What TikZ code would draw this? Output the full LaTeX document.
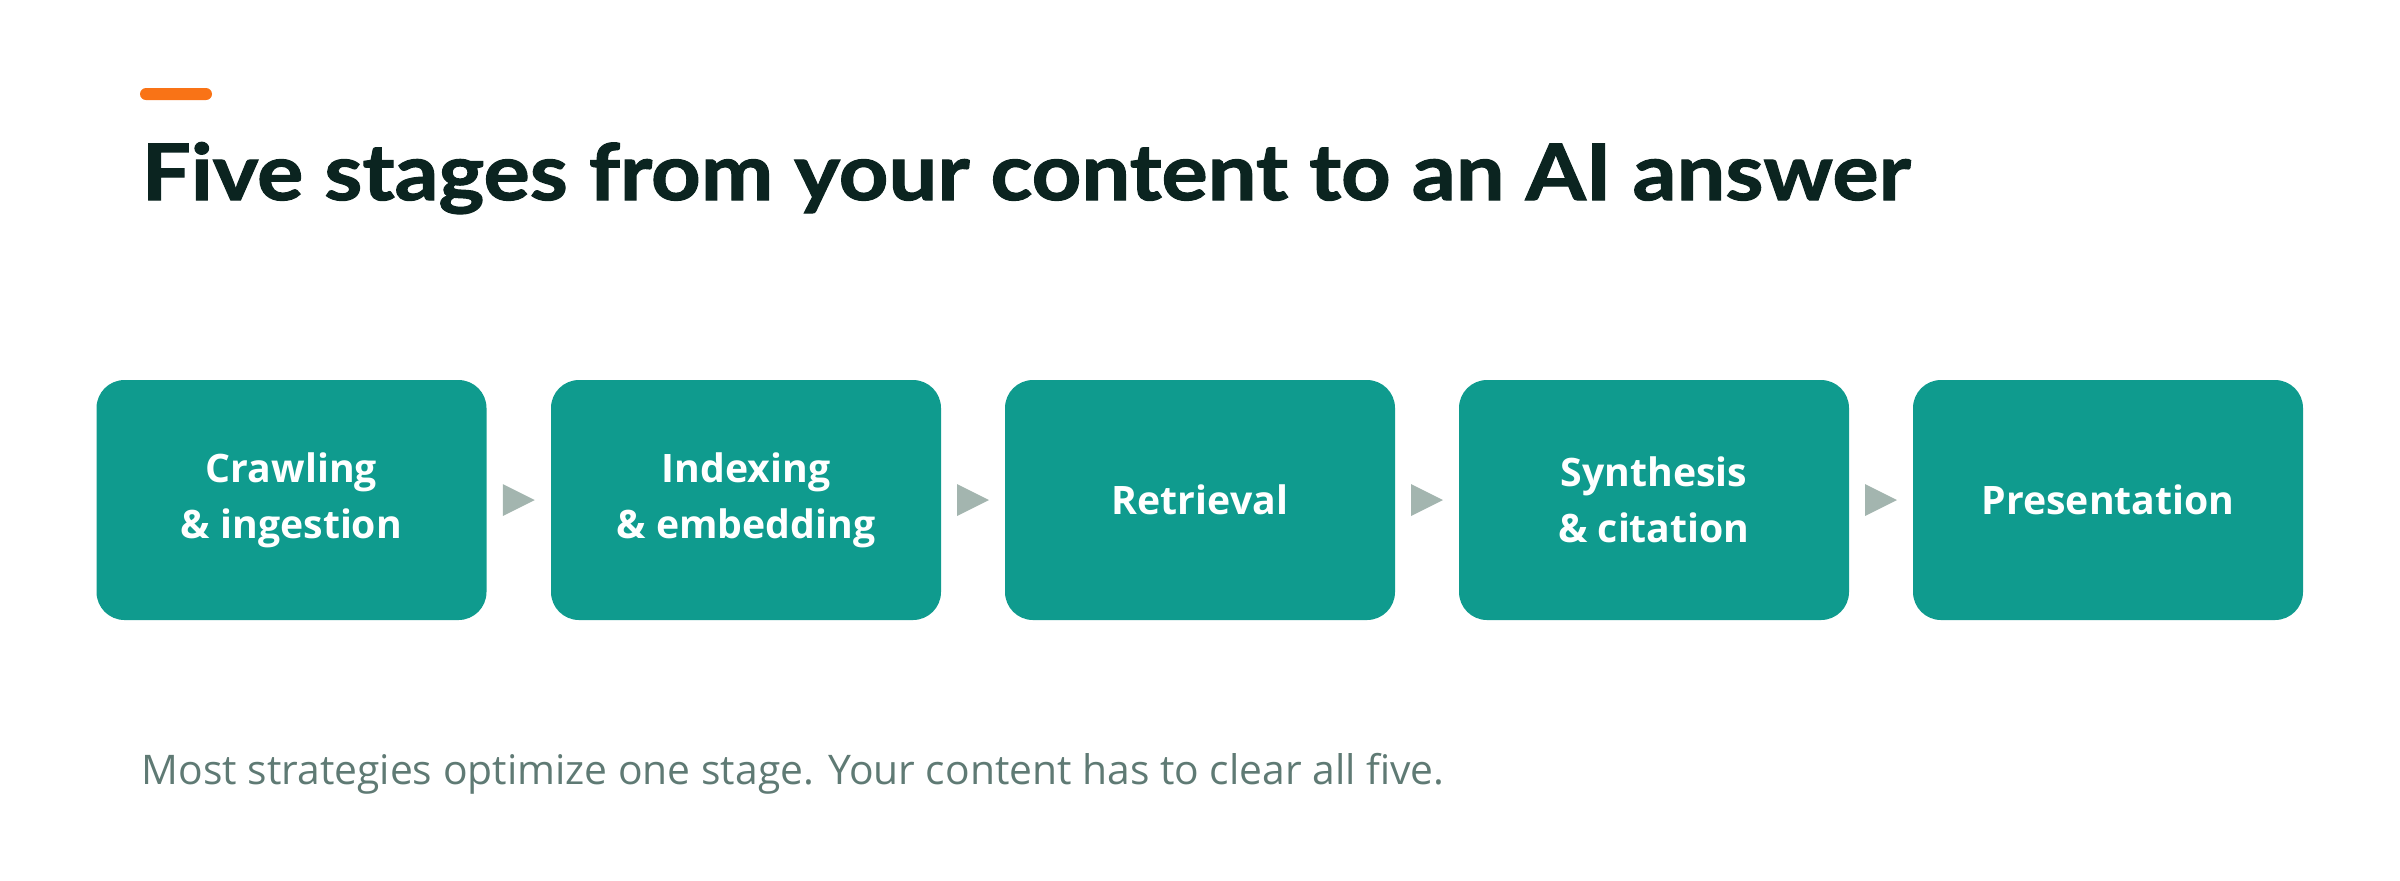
\documentclass[tikz,border=0pt]{standalone}
\usepackage{fontspec}
\setmainfont{Open Sans}
\newfontfamily\titlefont{Lato}[FakeStretch=1.11,FakeBold=1.5]
\usetikzlibrary{calc}
\definecolor{teal1}{HTML}{0F9B8E}
\definecolor{titlec}{HTML}{0B2420}
\definecolor{orangec}{HTML}{F97316}
\definecolor{notec}{HTML}{5F7A74}
\definecolor{arrowc}{HTML}{A3B5AF}
\tikzset{
  stagebox/.style={fill=teal1, rounded corners=7pt, minimum width=97.5pt, minimum height=60pt,
    text=white, align=center, font=\bfseries\fontsize{9.8pt}{14pt}\selectfont, inner sep=0pt},
  sep/.style={fill=arrowc},
}
\begin{document}
\begin{tikzpicture}[x=0.25pt,y=-0.25pt]
\useasboundingbox (0,0) rectangle (2400,880);
\fill[orangec, rounded corners=1.5pt] (140,88) rectangle (212,100);
\node[anchor=base west, inner sep=0pt, text=titlec, font=\titlefont\bfseries\fontsize{19.5pt}{22pt}\selectfont] (title) at (141,200) {Five stages from your content to an AI answer};
\node[stagebox] (b1) at (291.5,500) {Crawling\\\& ingestion};
\node[stagebox] (b2) at (746,500) {Indexing\\\& embedding};
\node[stagebox] (b3) at (1200,500) {Retrieval};
\node[stagebox] (b4) at (1654,500) {Synthesis\\\& citation};
\node[stagebox] (b5) at (2108,500) {Presentation};
\foreach \a/\b in {b1/b2,b2/b3,b3/b4,b4/b5}{
  \fill[sep] ($(\a.east)!0.5!(\b.west)+(-16,-16)$) -- ++(32,16) -- ++(-32,16) -- cycle;
}
\node[anchor=base west, inner sep=0pt, text=notec, font=\fontsize{10.2pt}{12pt}\selectfont] (note) at (141,784) {Most strategies optimize one stage. Your content has to clear all five.};
\end{tikzpicture}
\end{document}
